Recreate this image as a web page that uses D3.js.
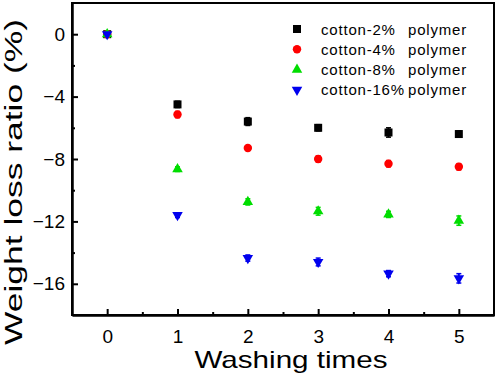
<!DOCTYPE html>
<html>
<head>
<meta charset="utf-8">
<script src="https://cdn.jsdelivr.net/npm/d3@7"></script>
<style>
  body { margin: 0; background: #fff; }
  text { font-family: "Liberation Sans", Arial, sans-serif; fill: #000; }
  .axis path, .axis line { stroke: #000; }
  .axis path { stroke-width: 2; }
  .axis line { stroke-width: 2; }
</style>
</head>
<body>
<div id="chart"></div>
<script>
// data
const washes = [0, 1, 2, 3, 4, 5]
const seriesNames = ['cotton-2%', 'cotton-4%', 'cotton-8%', 'cotton-16%']
const loss2 = [0, -4.5, -5.6, -6.0, -6.3, -6.4]
const loss4 = [0, -5.15, -7.3, -8.0, -8.3, -8.5]
const loss8 = [0, -8.65, -10.75, -11.35, -11.55, -11.95]
const loss16 = [0, -11.6, -14.35, -14.6, -15.35, -15.65]
const err2 = [0, 0.2, 0.25, 0.2, 0.3, 0.2]
const err4 = [0, 0.2, 0.15, 0.2, 0.2, 0.2]
const err8 = [0, 0.15, 0.2, 0.25, 0.2, 0.3]
const err16 = [0, 0.15, 0.2, 0.25, 0.2, 0.3]
const xTicks = [0, 1, 2, 3, 4, 5]
const yTicks = [0, -4, -8, -12, -16]

const w = 498, h = 379
const colours = ['#000000', '#ff0000', '#00dd00', '#0000ee']
const symbols = [
  {type: d3.symbolSquare, size: 64, rot: 0},
  {type: d3.symbolCircle, size: 56, rot: 0},
  {type: d3.symbolTriangle, size: 48, rot: 0},
  {type: d3.symbolTriangle, size: 48, rot: 180}
]

const series = [loss2, loss4, loss8, loss16].map((vals, i) => ({
  name: seriesNames[i],
  colour: colours[i],
  symbol: symbols[i],
  points: washes.map((x, j) => ({x: x, y: vals[j], e: [err2, err4, err8, err16][i][j]}))
}))

const xScale = d3.scaleLinear().domain([-0.5, 5.5]).range([72, 494])
const yScale = d3.scaleLinear().domain([-18, 2]).range([315, 3])

const svg = d3.select('#chart').append('svg')
  .attr('width', w).attr('height', h)

// frame
svg.append('rect')
  .attr('x', xScale(-0.5)).attr('y', yScale(2))
  .attr('width', xScale(5.5) - xScale(-0.5))
  .attr('height', yScale(-18) - yScale(2))
  .attr('fill', 'none').attr('stroke', '#000').attr('stroke-width', 2)

// axes (ticks inward)
svg.append('g')
  .attr('class', 'axis')
  .attr('transform', 'translate(0,' + yScale(-18) + ')')
  .call(d3.axisBottom(xScale).tickValues(xTicks).tickFormat(d3.format('d'))
    .tickSize(-6).tickSizeOuter(0).tickPadding(15))
  .call(g => g.selectAll('text').attr('font-size', 19))

svg.append('g')
  .attr('class', 'axis')
  .attr('transform', 'translate(0,' + yScale(-18) + ')')
  .call(d3.axisBottom(xScale).tickValues(xTicks.slice(0, -1).map(d => d + 0.5)).tickSize(-3).tickSizeOuter(0).tickFormat(''))

svg.append('g')
  .attr('class', 'axis')
  .attr('transform', 'translate(' + xScale(-0.5) + ',0)')
  .call(d3.axisLeft(yScale).tickValues(yTicks).tickFormat(d3.format('d'))
    .tickSize(-6).tickSizeOuter(0).tickPadding(7))
  .call(g => g.selectAll('text').attr('font-size', 19))

svg.append('g')
  .attr('class', 'axis')
  .attr('transform', 'translate(' + xScale(-0.5) + ',0)')
  .call(d3.axisLeft(yScale).tickValues([-2, -6, -10, -14]).tickSize(-3).tickSizeOuter(0).tickFormat(''))

svg.selectAll('.axis').attr('font-family', null)
svg.selectAll('.axis text').style('font-family', '"Liberation Sans", Arial, sans-serif')

// axis titles
svg.append('text')
  .attr('x', 291).attr('y', 368)
  .attr('text-anchor', 'middle')
  .attr('font-size', 24)
  .attr('textLength', 193).attr('lengthAdjust', 'spacingAndGlyphs')
  .text('Washing times')

svg.append('text')
  .attr('transform', 'translate(22,182) rotate(-90)')
  .attr('text-anchor', 'middle')
  .attr('font-size', 23)
  .attr('textLength', 326).attr('lengthAdjust', 'spacingAndGlyphs')
  .text('Weight loss ratio (%)')

// points with small error bars
const groups = svg.append('g').selectAll('g.series')
  .data(series)
  .join('g').attr('class', 'series')

groups.each(function (s) {
  const g = d3.select(this)
  const bars = g.selectAll('g.err').data(s.points.filter(p => p.e > 0)).join('g').attr('class', 'err')
  bars.append('line')
    .attr('x1', d => xScale(d.x)).attr('x2', d => xScale(d.x))
    .attr('y1', d => yScale(d.y + d.e)).attr('y2', d => yScale(d.y - d.e))
    .attr('stroke', s.colour).attr('stroke-width', 2)
  bars.selectAll('line.cap').data(d => [d.y + d.e, d.y - d.e].map(v => ({x: d.x, v: v})))
    .join('line').attr('class', 'cap')
    .attr('x1', d => xScale(d.x) - 2.5).attr('x2', d => xScale(d.x) + 2.5)
    .attr('y1', d => yScale(d.v)).attr('y2', d => yScale(d.v))
    .attr('stroke', s.colour).attr('stroke-width', 1.5)
  g.selectAll('path.point').data(s.points).join('path').attr('class', 'point')
    .attr('d', d3.symbol().type(s.symbol.type).size(s.symbol.size))
    .attr('transform', d => 'translate(' + xScale(d.x) + ',' + yScale(d.y) + ') rotate(' + s.symbol.rot + ')')
    .attr('fill', s.colour)
})

// legend
const legend = svg.append('g').attr('transform', 'translate(297,29)')
const rows = legend.selectAll('g.row').data(series).join('g').attr('class', 'row')
  .attr('transform', (d, i) => 'translate(0,' + i * 20.3 + ')')
rows.append('path')
  .attr('d', d => d3.symbol().type(d.symbol.type).size(d.symbol.size)())
  .attr('transform', d => 'rotate(' + d.symbol.rot + ')')
  .attr('fill', d => d.colour)
rows.append('text')
  .attr('x', 24).attr('y', 5.5)
  .attr('font-size', 15).attr('letter-spacing', 0.8)
  .text(d => d.name)
rows.append('text')
  .attr('x', 111).attr('y', 5.5)
  .attr('font-size', 15).attr('letter-spacing', 0.8)
  .text('polymer')
</script>
</body>
</html>
